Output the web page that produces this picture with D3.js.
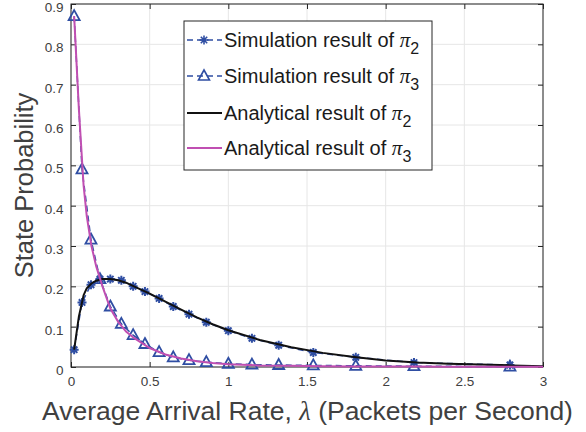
<!DOCTYPE html>
<html>
<head>
<meta charset="utf-8">
<script src="https://cdn.jsdelivr.net/npm/d3@7"></script>
<style>
  body { margin: 0; background: #fff; }
  svg { display: block; font-family: "Liberation Sans", Arial, sans-serif; }
</style>
</head>
<body>
<div id="chart"></div>
<script>
// simulation points
var simLambda = [0.02, 0.07, 0.127, 0.184, 0.25, 0.32, 0.395, 0.47, 0.56, 0.65, 0.75, 0.86, 1.0, 1.15, 1.32, 1.54, 1.81, 2.18, 2.79];
var simPi2 = [0.043, 0.16, 0.204, 0.218, 0.218, 0.215, 0.2, 0.187, 0.17, 0.15, 0.131, 0.111, 0.09, 0.071, 0.054, 0.036, 0.024, 0.011, 0.005];
var simPi3 = [0.87, 0.49, 0.316, 0.218, 0.15, 0.107, 0.079, 0.057, 0.037, 0.024, 0.017, 0.012, 0.008, 0.006, 0.005, 0.004, 0.003, 0.002, 0.001];

// analytical curves
var anaLambda = [0.02, 0.05, 0.08, 0.1, 0.13, 0.16, 0.2, 0.25, 0.3, 0.35, 0.4, 0.5, 0.6, 0.7, 0.8, 0.9, 1.0, 1.2, 1.4, 1.6, 1.8, 2.0, 2.2, 2.4, 2.6, 2.8, 3.0];
var anaPi2 = [0.043, 0.125, 0.178, 0.195, 0.207, 0.214, 0.218, 0.218, 0.215, 0.209, 0.2, 0.182, 0.162, 0.142, 0.123, 0.106, 0.091, 0.067, 0.049, 0.035, 0.025, 0.016, 0.011, 0.008, 0.006, 0.004, 0.002];
var anaPi3 = [0.87, 0.64, 0.45, 0.375, 0.30, 0.25, 0.20, 0.145, 0.112, 0.088, 0.072, 0.047, 0.031, 0.021, 0.014, 0.010, 0.007, 0.004, 0.003, 0.002, 0.0015, 0.001, 0.001, 0.0008, 0.0006, 0.0005, 0.0005];

var xTicks = [0, 0.5, 1, 1.5, 2, 2.5, 3];
var yTicks = [0, 0.1, 0.2, 0.3, 0.4, 0.5, 0.6, 0.7, 0.8, 0.9];
var legendNames = ['Simulation result of ', 'Simulation result of ', 'Analytical result of ', 'Analytical result of '];
var legendSubs = ['2', '3', '2', '3'];

var W = 586, H = 432;
var margin = {top: 4, right: 43, bottom: 65, left: 71};
var width = W - margin.left - margin.right,
    height = H - margin.top - margin.bottom;

var blue = '#2f4ea3', magenta = '#c04fb2', axisColor = '#262626', gridColor = '#e6e6e6';

var svg = d3.select('#chart').append('svg').attr('width', W).attr('height', H);
var g = svg.append('g').attr('transform', 'translate(' + margin.left + ',' + margin.top + ')');

var x = d3.scaleLinear().domain([0, 3]).range([0, width]);
var y = d3.scaleLinear().domain([0, 0.9]).range([height, 0]);

// grid
g.append('g').selectAll('line').data(xTicks).enter().append('line')
  .attr('x1', function (d) { return x(d); }).attr('x2', function (d) { return x(d); })
  .attr('y1', 0).attr('y2', height)
  .attr('stroke', gridColor).attr('stroke-width', 1);
g.append('g').selectAll('line').data(yTicks).enter().append('line')
  .attr('y1', function (d) { return y(d); }).attr('y2', function (d) { return y(d); })
  .attr('x1', 0).attr('x2', width)
  .attr('stroke', gridColor).attr('stroke-width', 1);

// axes
function styleAxis(sel, hideText) {
  sel.select('.domain').remove();
  sel.selectAll('line').attr('stroke', axisColor);
  sel.selectAll('text').attr('fill', '#404040').style('font-size', '13.5px');
  if (hideText) sel.selectAll('text').remove();
}
g.append('g').attr('transform', 'translate(0,' + height + ')')
  .call(d3.axisBottom(x).tickValues(xTicks).tickSize(-5).tickPadding(9).tickFormat(d3.format('')))
  .call(styleAxis);
g.append('g')
  .call(d3.axisTop(x).tickValues(xTicks).tickSize(-5))
  .call(styleAxis, true);
g.append('g')
  .call(d3.axisLeft(y).tickValues(yTicks).tickSize(-5).tickPadding(7.5).tickFormat(d3.format('')))
  .call(styleAxis)
  .selectAll('text').attr('dy', '0.55em');
g.append('g').attr('transform', 'translate(' + width + ',0)')
  .call(d3.axisRight(y).tickValues(yTicks).tickSize(-5))
  .call(styleAxis, true);

// box
g.append('rect').attr('width', width).attr('height', height)
  .attr('fill', 'none').attr('stroke', axisColor).attr('stroke-width', 1);

var plot = g.append('g');

function pts(xs, ys) { return xs.map(function (d, i) { return [d, ys[i]]; }); }
var line = d3.line().x(function (d) { return x(d[0]); }).y(function (d) { return y(d[1]); });

// simulation dashed lines
plot.append('path').attr('d', line(pts(simLambda, simPi2)))
  .attr('fill', 'none').attr('stroke', blue).attr('stroke-width', 1.5).attr('stroke-dasharray', '6,4');
plot.append('path').attr('d', line(pts(simLambda, simPi3)))
  .attr('fill', 'none').attr('stroke', blue).attr('stroke-width', 1.5).attr('stroke-dasharray', '6,4');

// markers
var star = 'M-4.5,0H4.5M0,-4.5V4.5M-3.2,-3.2L3.2,3.2M-3.2,3.2L3.2,-3.2';
var tri = 'M0,-6L5.5,4H-5.5Z';
plot.append('g').selectAll('path').data(pts(simLambda, simPi2)).enter().append('path')
  .attr('transform', function (d) { return 'translate(' + x(d[0]) + ',' + y(d[1]) + ')'; })
  .attr('d', star).attr('fill', 'none').attr('stroke', blue).attr('stroke-width', 2);
plot.append('g').selectAll('path').data(pts(simLambda, simPi3)).enter().append('path')
  .attr('transform', function (d) { return 'translate(' + x(d[0]) + ',' + y(d[1]) + ')'; })
  .attr('d', tri).attr('fill', 'none').attr('stroke', blue).attr('stroke-width', 1.8);

// analytical lines
plot.append('path').attr('d', line(pts(anaLambda, anaPi2)))
  .attr('fill', 'none').attr('stroke', '#111').attr('stroke-width', 2);
plot.append('path').attr('d', line(pts(anaLambda, anaPi3)))
  .attr('fill', 'none').attr('stroke', magenta).attr('stroke-width', 2);

// axis labels
svg.append('text').attr('x', 42).attr('y', 420).attr('text-anchor', 'start')
  .attr('fill', '#404040').style('font-size', '26.5px')
  .call(function (t) {
    t.append('tspan').text('Average Arrival Rate, ');
    t.append('tspan').attr('font-family', '"Liberation Serif", serif').attr('font-style', 'italic').text('λ');
    t.append('tspan').text(' (Packets per Second)');
  });
svg.append('text').attr('transform', 'translate(33,' + (margin.top + height / 2) + ') rotate(-90)')
  .attr('text-anchor', 'middle').attr('fill', '#404040').style('font-size', '25.5px')
  .text('State Probability');

// legend
var lg = svg.append('g').attr('transform', 'translate(184,21)');
lg.append('rect').attr('width', 248).attr('height', 149)
  .attr('fill', '#fff').attr('stroke', axisColor).attr('stroke-width', 1);
var rowY = [19, 55, 92, 127];
legendNames.forEach(function (name, i) {
  var ry = rowY[i];
  var row = lg.append('g').attr('transform', 'translate(0,' + ry + ')');
  if (i < 2) {
    row.append('line').attr('x1', 3).attr('x2', 38).attr('stroke', blue)
      .attr('stroke-width', 1.5).attr('stroke-dasharray', '6,4');
    row.append('path').attr('transform', 'translate(20,0)')
      .attr('d', i === 0 ? star : tri).attr('fill', 'none').attr('stroke', blue).attr('stroke-width', 1.6);
  } else {
    row.append('line').attr('x1', 3).attr('x2', 38).attr('stroke', i === 2 ? '#111' : magenta)
      .attr('stroke-width', 2);
  }
  var t = row.append('text').attr('x', 40).attr('y', 7).attr('fill', '#1a1a1a').style('font-size', '20px');
  t.append('tspan').text(name);
  t.append('tspan').attr('font-family', '"Liberation Serif", serif').attr('font-style', 'italic')
    .style('font-size', '21px').text('π');
  t.append('tspan').attr('dy', 7).style('font-size', '16px').text(legendSubs[i]);
});
</script>
</body>
</html>
